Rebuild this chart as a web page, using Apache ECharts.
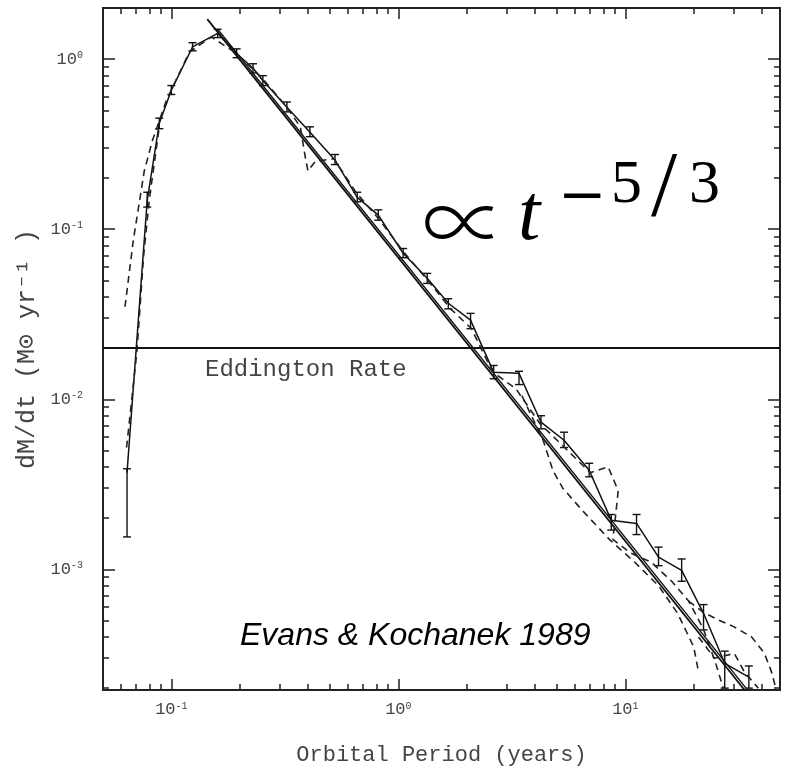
<!DOCTYPE html>
<html><head><meta charset="utf-8">
<script src="https://cdn.jsdelivr.net/npm/echarts@6/dist/echarts.min.js"></script>
<style>html,body{margin:0;padding:0;background:#fff}#c{width:790px;height:771px}</style>
</head><body><div id="c"></div>
<script>
// ---- axis ticks / labels ----
const xMajorTicks = [0.1, 1, 10];
const xMajorExps = ['-1', '0', '1'];
const xMinorTicks = [0.05,0.06,0.07,0.08,0.09,0.2,0.3,0.4,0.5,0.6,0.7,0.8,0.9,2,3,4,5,6,7,8,9,20,30,40];
const yMajorTicks = [1, 0.1, 0.01, 0.001];
const yMajorExps = ['0', '-1', '-2', '-3'];
const yMinorTicks = [2e-4,3e-4,4e-4,5e-4,6e-4,7e-4,8e-4,9e-4,2e-3,3e-3,4e-3,5e-3,6e-3,7e-3,8e-3,9e-3,
  0.02,0.03,0.04,0.05,0.06,0.07,0.08,0.09,0.2,0.3,0.4,0.5,0.6,0.7,0.8,0.9,2];
const xRange = [0.05, 48];
const yRange = [1.95e-4, 2];

// ---- data: simulation with error bars ----
const period = [0.0638,0.0783,0.0885,0.100,0.124,0.160,0.194,0.229,0.253,0.323,0.408,0.526,0.659,0.816,
  1.05,1.34,1.66,2.08,2.63,3.40,4.25,5.37,6.93,8.67,11.2,14.0,17.7,22.1,27.4,35.0];
const rate = [3.7e-3,0.148,0.42,0.657,1.18,1.42,1.08,0.885,0.75,0.522,0.372,0.255,0.154,0.121,
  0.0722,0.0515,0.0367,0.0292,0.0144,0.0142,0.00733,0.00574,0.00382,0.00194,0.00186,0.00118,0.000986,0.000551,0.00028,0.000232];
const rateLow = [1.55e-3,0.135,0.39,0.62,1.12,1.34,1.02,0.83,0.70,0.49,0.35,0.24,0.145,0.113,
  0.068,0.048,0.034,0.026,0.0132,0.0122,0.0067,0.0052,0.0035,0.0017,0.0016,0.00105,0.00085,0.00044,0.0002,0.0002];
const rateHigh = [3.9e-3,0.165,0.45,0.70,1.25,1.50,1.15,0.94,0.80,0.56,0.40,0.275,0.165,0.13,
  0.077,0.055,0.039,0.032,0.0158,0.0146,0.0080,0.0064,0.0042,0.0021,0.0021,0.00135,0.00115,0.00062,0.00033,0.00027];

// ---- t^-5/3 power-law lines (end points) ----
const fitPeriod = [0.144, 33.5];
const fitRate = [1.72, 1.95e-4];
const fit2Period = [0.16, 34];
const fit2Rate = [1.50, 2.0e-4];

// ---- dashed curves ----
const dashAPeriod = [0.0625,0.068,0.076,0.0824,0.095,0.12,0.15,0.19,0.25,0.32,0.37,0.39,0.40,0.43,0.52,0.65,0.82,1.05,1.35,1.7,2.1,2.6,3.3,4.2,5.4,7.0,8.4,9.3,9.0,8.8,10.5,13,16,19,22,25,27];
const dashARate = [0.035,0.086,0.22,0.33,0.57,1.1,1.35,1.1,0.78,0.53,0.40,0.26,0.22,0.25,0.26,0.165,0.115,0.074,0.05,0.034,0.026,0.0145,0.0115,0.0072,0.0052,0.0037,0.0040,0.0029,0.0019,0.0015,0.00125,0.0011,0.00085,0.00065,0.00045,0.00028,0.0002];
const dashEPeriod = [0.0635,0.0705,0.0755,0.080,0.0885];
const dashERate = [0.0052,0.019,0.07,0.15,0.40];
const dashBPeriod = [3.5,4.35,4.8,5.3,6.5,8.5,11,14,17,20,21];
const dashBRate = [0.0105,0.0057,0.0038,0.0030,0.0022,0.0015,0.0011,0.0008,0.00055,0.00035,0.00025];
const dashCPeriod = [19,22,26,30,36,41,44,46];
const dashCRate = [6.5e-4,5.6e-4,5.0e-4,4.6e-4,4.0e-4,3.2e-4,2.5e-4,2.0e-4];
const dashDPeriod = [21,24.7,30.2,33.4,38.5];
const dashDRate = [4.0e-4,3.0e-4,3.2e-4,2.5e-4,2.0e-4];

const eddingtonRate = 0.019;

const zip = (a, b) => a.map((v, i) => [v, b[i]]);
const errData = period.map((t, i) => [t, rateLow[i], rateHigh[i]]);

const MONO = '"Liberation Mono", "DejaVu Sans Mono", monospace';
const TXT = '#444';
const rich = {
  b: { fontFamily: MONO, fontSize: 17, color: TXT, verticalAlign: 'bottom' },
  s: { fontFamily: MONO, fontSize: 10, color: TXT, verticalAlign: 'top' }
};
const tickStyle = { color: '#222', width: 1.5 };

function xAxisDef(pos, ticks, len, withLabel) {
  return {
    type: 'log', logBase: 10, min: xRange[0], max: xRange[1], position: pos,
    axisLine: { show: false }, splitLine: { show: false },
    axisTick: { show: true, inside: true, length: len, lineStyle: tickStyle, customValues: ticks },
    axisLabel: withLabel ? {
      show: true, margin: 11, customValues: xMajorTicks, rich: rich,
      formatter: v => { const i = xMajorTicks.findIndex(m => Math.abs(Math.log10(m) - Math.log10(v)) < 1e-6); return '{b|10}{s|' + (i >= 0 ? xMajorExps[i] : '') + '}'; }
    } : { show: false }
  };
}
function yAxisDef(pos, ticks, len, withLabel) {
  return {
    type: 'log', logBase: 10, min: yRange[0], max: yRange[1], position: pos,
    axisLine: { show: false }, splitLine: { show: false },
    axisTick: { show: true, inside: true, length: len, lineStyle: tickStyle, customValues: ticks },
    axisLabel: withLabel ? {
      show: true, margin: 20, customValues: yMajorTicks, rich: rich,
      formatter: v => { const i = yMajorTicks.findIndex(m => Math.abs(Math.log10(m) - Math.log10(v)) < 1e-6); return '{b|10}{s|' + (i >= 0 ? yMajorExps[i] : '') + '}'; }
    } : { show: false }
  };
}

const xAxes = [xAxisDef('bottom', xMajorTicks, 11, true), xAxisDef('bottom', xMinorTicks, 6, false),
  xAxisDef('top', xMajorTicks, 11, false), xAxisDef('top', xMinorTicks, 6, false)];
xAxes[0].name = 'Orbital Period (years)';
xAxes[0].nameLocation = 'middle';
xAxes[0].nameGap = 54;
xAxes[0].nameTextStyle = { fontFamily: MONO, fontSize: 22, color: TXT };
const yAxes = [yAxisDef('left', yMajorTicks, 12, true), yAxisDef('left', yMinorTicks, 6, false),
  yAxisDef('right', yMajorTicks, 12, false), yAxisDef('right', yMinorTicks, 6, false)];
yAxes[0].name = 'dM/dt (M\u2299 yr\u207B\u00B9 )';
yAxes[0].nameLocation = 'middle';
yAxes[0].nameGap = 50;
yAxes[0].nameRotate = 90;
yAxes[0].nameTextStyle = { fontFamily: MONO, fontSize: 25, color: TXT };

const solid = (w) => ({ color: '#111', width: w, type: 'solid' });
const dashed = { color: '#222', width: 1.6, type: [7, 5] };

const option = {
  backgroundColor: '#fff',
  animation: false,
  grid: { left: 103, top: 8, width: 677, height: 682, show: true, borderColor: '#222', borderWidth: 2, backgroundColor: 'transparent', containLabel: false },
  xAxis: xAxes,
  yAxis: yAxes,
  series: [
    { type: 'line', data: zip(fitPeriod, fitRate), symbol: 'none', lineStyle: solid(1.8), clip: true,
      markLine: { silent: true, symbol: 'none', label: { show: false }, lineStyle: { color: '#111', width: 2, type: 'solid' }, data: [{ yAxis: eddingtonRate }] } },
    { type: 'line', data: zip(fit2Period, fit2Rate), symbol: 'none', lineStyle: solid(1.4), clip: true },
    { type: 'line', data: zip(period, rate), symbol: 'none', lineStyle: solid(1.5), clip: true },
    { type: 'custom', data: errData, clip: true, encode: { x: 0, y: [1, 2] },
      renderItem: (params, api) => {
        const x = api.value(0);
        const p1 = api.coord([x, api.value(2)]);
        const p2 = api.coord([x, api.value(1)]);
        const w = 4, st = { stroke: '#111', lineWidth: 1.4 };
        return { type: 'group', children: [
          { type: 'line', shape: { x1: p1[0], y1: p1[1], x2: p2[0], y2: p2[1] }, style: st },
          { type: 'line', shape: { x1: p1[0] - w, y1: p1[1], x2: p1[0] + w, y2: p1[1] }, style: st },
          { type: 'line', shape: { x1: p2[0] - w, y1: p2[1], x2: p2[0] + w, y2: p2[1] }, style: st }
        ] };
      } },
    { type: 'line', data: zip(dashAPeriod, dashARate), symbol: 'none', lineStyle: dashed, clip: true },
    { type: 'line', data: zip(dashEPeriod, dashERate), symbol: 'none', lineStyle: dashed, clip: true },
    { type: 'line', data: zip(dashBPeriod, dashBRate), symbol: 'none', lineStyle: dashed, clip: true },
    { type: 'line', data: zip(dashCPeriod, dashCRate), symbol: 'none', lineStyle: dashed, clip: true },
    { type: 'line', data: zip(dashDPeriod, dashDRate), symbol: 'none', lineStyle: dashed, clip: true }
  ],
  graphic: [
    { type: 'text', z: 100, style: { x: 205, y: 370, text: 'Eddington Rate', font: '24px ' + MONO, fill: TXT, verticalAlign: 'middle' } },
    { type: 'text', z: 100, style: { x: 240, y: 636, text: 'Evans & Kochanek 1989', font: 'italic 32px "Liberation Sans", Arial, sans-serif', fill: '#000', verticalAlign: 'middle' } },
    { type: 'text', z: 100, style: { x: 422, y: 222, text: '\u221D', font: '300 84px "Noto Sans CJK JP", "DejaVu Serif", serif', fill: '#000', verticalAlign: 'middle' } },
    { type: 'text', z: 100, style: { x: 518, y: 218, text: 't', font: 'italic 80px "Liberation Serif", serif', fill: '#000', verticalAlign: 'middle' } },
    { type: 'text', z: 100, style: { x: 558, y: 199, text: '\u2212', font: '58px "DejaVu Serif", serif', fill: '#000', verticalAlign: 'middle' } },
    { type: 'text', z: 100, style: { x: 611, y: 186, text: '5', font: '62px "Liberation Serif", serif', fill: '#000', verticalAlign: 'middle' } },
    { type: 'text', z: 100, style: { x: 651, y: 190, text: '/', font: '94px "Liberation Serif", serif', fill: '#000', verticalAlign: 'middle' } },
    { type: 'text', z: 100, style: { x: 689, y: 186, text: '3', font: '62px "Liberation Serif", serif', fill: '#000', verticalAlign: 'middle' } }
  ]
};
const chart = echarts.init(document.getElementById('c'), null, { renderer: 'canvas' });
chart.setOption(option);
</script>
</body></html>
